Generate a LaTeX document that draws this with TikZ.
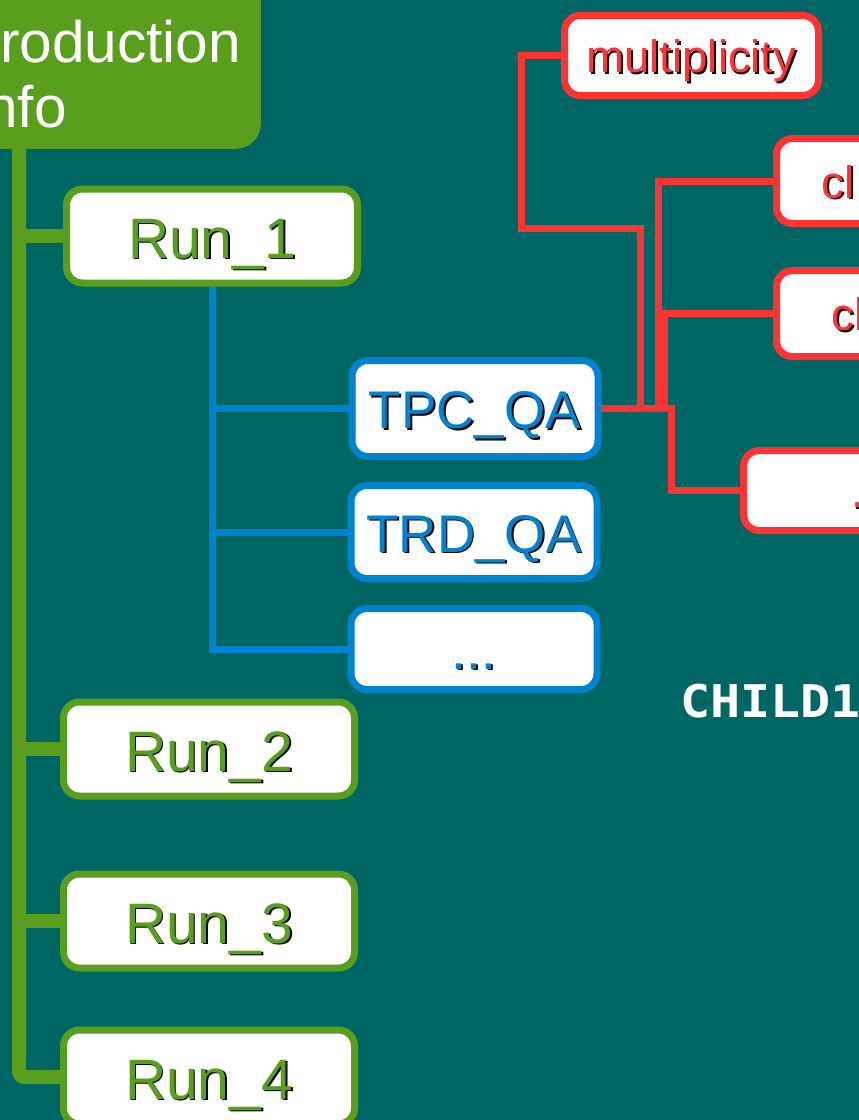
\documentclass[tikz,border=0pt]{standalone}
\usepackage{fontspec}
\setmainfont{Liberation Sans}
\newfontfamily\childfont{DejaVu Sans Mono}
\definecolor{bgteal}{RGB}{0,102,100}
\definecolor{rungreen}{RGB}{90,158,30}
\definecolor{qablue}{RGB}{0,130,206}
\definecolor{obsred}{RGB}{255,51,51}
\newcommand\shtext[2]{\makebox[0pt][l]{\kern1.8pt\raisebox{-1.8pt}{\color{black}#2}}{\color{#1}#2}}
\pgfdeclarelayer{bg}
\pgfsetlayers{bg,main}
\begin{document}
\begin{tikzpicture}[x=1pt,y=-1pt,
  box/.style={draw, fill=white, line width=7pt, rounded corners=16pt, inner sep=0pt, text depth=0pt},
  runbox/.style={box, draw=rungreen, minimum width=291pt, minimum height=94pt, text height=44pt, font=\fontsize{57}{60}\selectfont},
  qabox/.style={box, draw=qablue, minimum width=246pt, text height=40pt, font=\fontsize{53}{58}\selectfont},
  obsbox/.style={box, draw=obsred, text height=34pt, font=\fontsize{45.5}{50}\selectfont},
  prodbox/.style={fill=rungreen, rounded corners=25pt, inner sep=0pt},
  prodtext/.style={anchor=base west, inner sep=0pt, text=white, font=\fontsize{58.5}{65}\selectfont},
  greenline/.style={draw=rungreen, line width=14pt},
  blueline/.style={draw=qablue, line width=7pt},
  redline/.style={draw=obsred, line width=7pt},
]
\useasboundingbox (0,0) rectangle (859,1120);
\clip (0,0) rectangle (859,1120);
\begin{pgfonlayer}{bg}
  \fill[bgteal] (0,0) rectangle (859,1120);
\end{pgfonlayer}

% production info box
\node[prodbox, anchor=south east, minimum width=340pt, minimum height=200pt] (prod) at (261,149) {};
\node[prodtext] (prodA) at (-39,62) {Production};
\node[prodtext] (prodB) at (-31,127) {Info};

% runs
\node[runbox] (run1) at (212,236) {\shtext{rungreen}{Run\_1}};
\node[runbox] (run2) at (209,749) {\shtext{rungreen}{Run\_2}};
\node[runbox] (run3) at (209,921) {\shtext{rungreen}{Run\_3}};
\node[runbox] (run4) at (209,1077) {\shtext{rungreen}{Run\_4}};

% QA folders
\node[qabox, minimum height=96pt] (tpc) at (475,408.5) {\shtext{qablue}{TPC\_QA}};
\node[qabox, minimum height=93pt] (trd) at (474,532) {\shtext{qablue}{TRD\_QA}};
\node[qabox, minimum height=81pt] (qamore) at (474,649) {\shtext{qablue}{...}};

% observables
\node[obsbox, minimum width=254pt, minimum height=80pt] (mult) at (691.5,55.5) {\shtext{obsred}{multiplicity}};
\node[obsbox, anchor=west, minimum height=85pt, text width=160pt, align=left, inner xsep=45pt] (cl1) at (773,181) {\shtext{obsred}{cl}};
\node[obsbox, anchor=west, minimum height=86pt, text width=160pt, align=left, inner xsep=55pt] (cl2) at (773,313.5) {\shtext{obsred}{cl}};
\node[obsbox, anchor=west, minimum height=80pt, text width=160pt, align=left, inner xsep=107.5pt] (obs4) at (740,490.5) {\shtext{obsred}{...}};

% label
\node[anchor=base west, inner sep=0pt, text=white, font=\childfont\bfseries\fontsize{45}{50}\selectfont] (child) at (680,717) {\scalebox{1.11}[1]{CHILD1}};

% connectors
\coordinate (trunk) at (19,149);
\begin{pgfonlayer}{bg}
  \draw[greenline] (trunk) |- (run1.center);
  \draw[greenline] (trunk) |- (run2.center);
  \draw[greenline] (trunk) |- (run3.center);
  \draw[greenline, rounded corners=6pt] (trunk) |- (run4.center);
  \draw[blueline] (run1.center) |- (tpc.center);
  \draw[blueline] (run1.center) |- (trd.center);
  \draw[blueline] (run1.center) |- (qamore.center);
  \draw[redline] (tpc.center) -| (640,228) -| (521,55.5) -- (mult.center);
  \draw[redline] (tpc.center) -| (658,181) -- (cl1.center);
  \draw[redline] (tpc.center) -| (664,313.5) -- (cl2.center);
  \draw[redline] (tpc.center) -| (671,490.5) -- (obs4.center);
\end{pgfonlayer}
\end{tikzpicture}
\end{document}
